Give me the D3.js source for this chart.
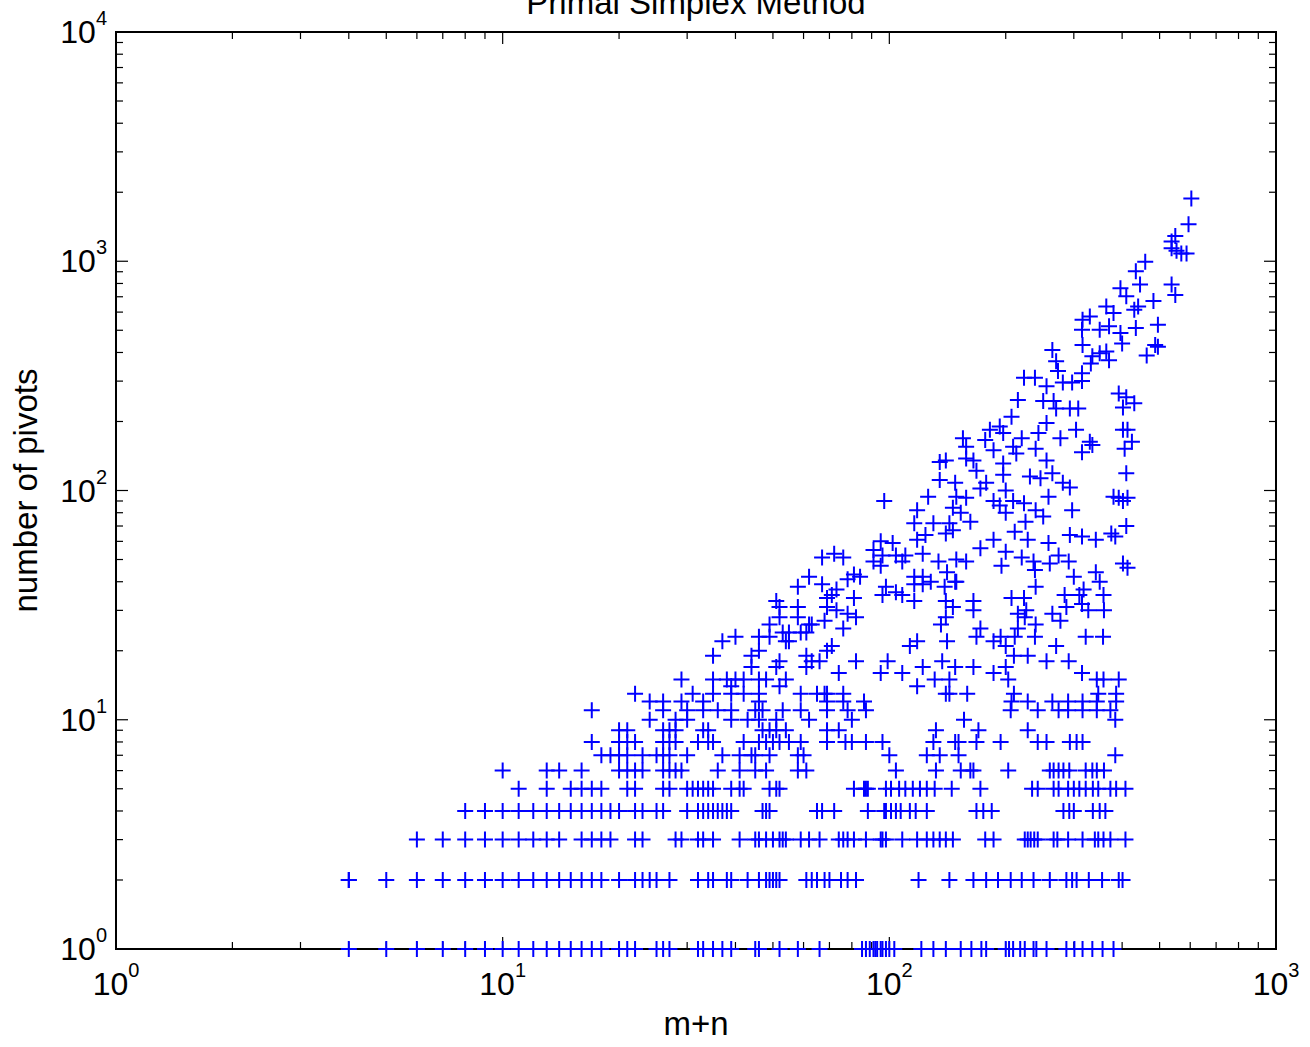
<!DOCTYPE html>
<html>
<head>
<meta charset="utf-8">
<script src="https://cdn.jsdelivr.net/npm/d3@7"></script>
<style>
  body { margin: 0; background: #fff; }
  text { font-family: "Liberation Sans", Arial, Helvetica, sans-serif; fill: #000; }
</style>
</head>
<body>
<div class="scatterChart"></div>
<script>
var width = 1310,
    height = 1047;

var margin = {left: 116, right: 34, top: 32, bottom: 98};

// m+n values for problems that took a small, whole number of pivots
var pivots1 = [4,5,6,7,8,9,10,11,12,13,14,15,16,17,18,20,21,22,25,26,27,32,33,35,37,39,45,46,52,58,66,85,87,89,91,92,93,95,96,98,100,103,121,130,140,153,163,173,178,200,204,209,218,224,236,240,255,287,301,316,335,356,380];
var pivots2 = [4,4,5,6,7,8,9,10,11,12,13,14,15,16,17,18,20,22,23,24,25,27,32,34,35,38,39,43,46,48,49,50,51,52,61,63,65,68,70,75,78,82,119,143,165,178,191,206,220,236,260,287,297,305,328,355,392,401];
var pivots3 = [6,7,8,9,10,11,12,13,14,16,17,18,19,22,23,28,29,32,33,35,41,45,46,48,50,52,53,54,59,62,66,74,76,78,81,87,95,96,98,108,118,125,130,135,140,146,177,186,224,228,232,237,242,266,272,290,316,340,347,358,373,408];
var pivots4 = [8,9,10,11,12,13,14,15,16,17,18,19,20,22,23,25,26,30,32,33,34,35,36,37,38,39,47,48,49,65,67,72,88,97,98,101,104,107,113,117,125,168,175,184,282,292,300,336,350,362];
var pivots5 = [11,13,15,16,17,18,21,22,26,27,30,31,32,33,34,35,39,41,42,49,51,52,81,86,87,88,98,101,106,110,115,120,125,131,145,172,234,242,266,274,290,300,310,322,336,347,373,386,408];
var pivots6 = [10,13,14,16,20,21,22,23,26,27,28,29,36,41,45,48,58,61,104,132,153,162,165,203,260,266,274,282,292,322,335,344,359];
var pivots7 = [18,19,20,21,23,25,26,27,30,37,41,44,45,49,58,60,100,125,135,151,384];
var pivots8 = [17,20,21,22,26,27,28,32,34,35,42,46,48,50,52,55,59,69,77,80,87,96,130,148,151,168,194,242,255,293,305,316];
var pivots9 = [20,21,26,27,28,33,34,47,49,51,54,69,74,132,170,228];
var pivots10 = [24,28,30,39,43,46,51,62,80,156,384];
var pivots11 = [17,26,30,33,36,39,45,47,53,59,69,78,87,206,242,274,290,316,344,373];
var pivots12 = [24,26,29,33,46,69,76,86,207,228,264,290,316,344,386];
var pivots13 = [22,31,35,39,42,46,59,65,68,69,76,140,143,159,210,347,386];

// [m+n, number of pivots] for the rest
var upperPoints = [
  [29,15],[35,15],[38,15],[40,15],[42,15],[46,15],[48,15],[54,15],[52,14],[39,14],[131,15],[143,15],[203,15],[344,15],[358,15],[392,15],[118,14],[44,17],
  [67,51],[72,53],[76,51],[62,42],[58,38],[67,39],[73,37],[78,41],[81,43],[71,35],[69,34],[51,33],[52,31],[58,31],[81,34],[69,31],[73,30],[78,29],[82,28],[52,28],[58,28],[49,26],[62,26],[63,26],[68,27],[76,25],[53,24],[55,24],[59,24],[61,24],[54,22],[55,22],[46,23],[49,23],[37,22],[40,23],[35,19],[44,19],[46,20],[52,18],[51,17],[61,19],[63,18],[66,18],[69,20],[61,17],[71,21],[74,16],[82,18],
  [215,248],[207,210],[193,190],[197,178],[182,184],[177,166],[155,169],[158,155],[186,150],[209,155],[213,145],[165,135],[158,138],[140,135],[135,133],[197,131],[168,122],[197,117],[135,111],[148,108],[178,108],[172,102],[200,100],[97,90],[126,94],[149,94],[158,93],[186,90],[209,90],[193,86],[146,84],[153,80],[200,80],[118,82],[116,72],[130,72],[143,72],[162,73],[146,67],[140,65],[124,64],[118,61],[211,66],[186,61],[172,56],[200,54],[95,60],[102,59],[91,55],[96,52],[91,49],[95,47],[104,52],[110,52],[108,49],[122,53],[134,49],[149,50],[158,49],[141,44],[149,40],[195,47],[84,42],[116,42],[122,42],[116,39],[122,39],[128,40],[139,38],[148,40],[98,38],[104,36],[108,35],[96,35],[116,33],[140,33],[146,31],[165,33],[165,30],[207,34],[215,29],[140,28],[136,26],[172,25],[168,23],[194,23],[186,22],[211,23],[118,22],[113,21],[141,22],[200,21],[210,19],[122,17],[137,18],[148,17],[165,17],[200,17],[186,16],[95,16],[108,16],[99,18],
  [410,255],[392,265],[430,240],[402,230],[250,246],[266,246],[270,228],[293,228],[308,228],[255,285],[281,296],[297,296],[315,300],[255,197],[220,169],[243,178],[277,169],[304,184],[330,163],[335,158],[315,147],[239,152],[255,135],[402,184],[413,184],[424,163],[406,152],[410,119],[231,115],[246,113],[264,119],[281,108],[293,103],[223,88],[258,94],[239,82],[250,77],[297,82],[225,73],[380,94],[392,93],[402,90],[413,93],[410,70],[375,65],[384,63],[228,61],[258,59],[293,64],[315,63],[342,61],[220,51],[236,49],[238,45],[260,48],[274,52],[291,49],[300,42],[342,44],[350,40],[402,48],[413,46],[239,38],[223,34],[284,35],[310,35],[318,37],[358,35],[287,31],[315,32],[327,30],[359,30],[226,30],[224,28],[239,26],[264,29],[277,27],[215,25],[238,23],[322,23],[357,23],[270,21],[228,19],[255,18],[291,18],[315,16],
  [604,1880],[594,1450],[549,1290],[537,1220],[537,1140],[553,1110],[569,1080],[587,1080],[459,994],[434,904],[445,791],[396,762],[410,703],[537,791],[549,712],[364,634],[380,594],[430,615],[440,634],[482,670],[330,574],[316,556],[315,503],[350,503],[370,520],[396,486],[400,438],[434,512],[495,529],[487,431],[495,424],[463,388],[316,431],[350,397],[364,404],[370,370],[335,385],[332,358],[264,410],[270,366],[273,332],[315,325],[223,310],[238,310]
];

var xDecades = [1, 10, 100, 1000];
var yDecades = [1, 10, 100, 1000, 10000];

var rowLists = [pivots1, pivots2, pivots3, pivots4, pivots5, pivots6, pivots7,
                pivots8, pivots9, pivots10, pivots11, pivots12, pivots13];

var points = [];
rowLists.forEach(function(list, i) {
  list.forEach(function(mn) { points.push([mn, i + 1]); });
});
upperPoints.forEach(function(p) { points.push(p); });

var x = d3.scaleLog()
  .domain([1, 1000])
  .range([margin.left, width - margin.right]);

var y = d3.scaleLog()
  .domain([1, 10000])
  .range([height - margin.bottom, margin.top]);

var svg = d3.select(".scatterChart")
  .append("svg")
  .attr("width", width)
  .attr("height", height);

var x0 = x.range()[0], x1 = x.range()[1];
var y0 = y.range()[0], y1 = y.range()[1];

function isDecade(v) {
  return Math.abs(Math.log10(v) - Math.round(Math.log10(v))) < 1e-9;
}

// ticks on all four sides, pointing inwards
var majorLen = 12, minorLen = 7;
var ticks = svg.append("g").attr("stroke", "#000").attr("stroke-width", 1.2);

x.ticks().forEach(function(v) {
  var len = isDecade(v) ? majorLen : minorLen;
  ticks.append("line").attr("x1", x(v)).attr("x2", x(v)).attr("y1", y0).attr("y2", y0 - len);
  ticks.append("line").attr("x1", x(v)).attr("x2", x(v)).attr("y1", y1).attr("y2", y1 + len);
});
y.ticks().forEach(function(v) {
  var len = isDecade(v) ? majorLen : minorLen;
  ticks.append("line").attr("y1", y(v)).attr("y2", y(v)).attr("x1", x0).attr("x2", x0 + len);
  ticks.append("line").attr("y1", y(v)).attr("y2", y(v)).attr("x1", x1).attr("x2", x1 - len);
});

svg.append("rect")
  .attr("x", x0)
  .attr("y", y1)
  .attr("width", x1 - x0)
  .attr("height", y0 - y1)
  .attr("fill", "none")
  .attr("stroke", "#000")
  .attr("stroke-width", 2);

// tick labels as 10 with a superscript exponent
svg.selectAll(".xlabel")
  .data(xDecades)
  .enter()
  .append("text")
  .attr("class", "xlabel")
  .attr("x", function(d) { return x(d); })
  .attr("y", y0 + 46)
  .attr("text-anchor", "middle")
  .attr("font-size", "32px")
  .each(function(d) {
    var t = d3.select(this);
    t.append("tspan").text("10");
    t.append("tspan").attr("dy", -18).attr("font-size", "20px").text(Math.round(Math.log10(d)));
  });

svg.selectAll(".ylabel")
  .data(yDecades)
  .enter()
  .append("text")
  .attr("class", "ylabel")
  .attr("x", x0 - 9)
  .attr("y", function(d) { return y(d) + 11; })
  .attr("text-anchor", "end")
  .attr("font-size", "32px")
  .each(function(d) {
    var t = d3.select(this);
    t.append("tspan").text("10");
    t.append("tspan").attr("dy", -18).attr("font-size", "20px").text(Math.round(Math.log10(d)));
  });

// title and axis labels
svg.append("text")
  .attr("x", (x0 + x1) / 2)
  .attr("y", 14)
  .attr("text-anchor", "middle")
  .attr("font-size", "33px")
  .text("Primal Simplex Method");

svg.append("text")
  .attr("x", (x0 + x1) / 2)
  .attr("y", 1035)
  .attr("text-anchor", "middle")
  .attr("font-size", "33px")
  .text("m+n");

svg.append("text")
  .attr("transform", "translate(37," + (y0 + y1) / 2 + ") rotate(-90)")
  .attr("text-anchor", "middle")
  .attr("font-size", "33px")
  .text("number of pivots");

// plus markers
svg.append("g")
  .selectAll("path")
  .data(points)
  .enter()
  .append("path")
  .attr("transform", function(d) { return "translate(" + x(d[0]) + "," + y(d[1]) + ")"; })
  .attr("d", "M-8,0H8M0,-8V8")
  .attr("fill", "none")
  .attr("stroke", "#0000ff")
  .attr("stroke-width", 2);
</script>
</body>
</html>
